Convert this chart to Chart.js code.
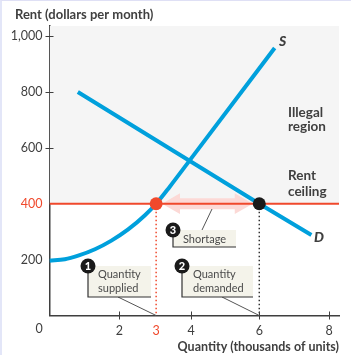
<!DOCTYPE html>
<html>
<head>
<meta charset="utf-8">
<script src="https://cdn.jsdelivr.net/npm/chart.js@4"></script>
<style>
html,body{margin:0;padding:0;background:#fff;}
#wrap{position:relative;width:351px;height:355px;overflow:hidden;}
#wrap::after{content:"";position:absolute;left:0;top:0;right:0;bottom:0;border-top:1px solid #dfe0f5;border-left:2px solid #e3e6f8;pointer-events:none;}
</style>
</head>
<body>
<div id="wrap"><canvas id="rentChart" width="351" height="355"></canvas></div>
<script>
const supplyX = [0, 0.44, 0.82, 1.3, 1.77, 2.25, 2.73, 3.05, 3.44, 4.01, 6.44];
const supplyY = [196, 201, 214, 237, 268, 308, 359, 400, 461, 555, 957];
const demandX = [0.81, 6, 7.49];
const demandY = [800, 400, 288];
const ceilingX = [0, 8.28];
const ceilingY = [400, 400];
const shortageX = [3.56, 5.47];
const shortageY = [400, 400];
const suppliedX = [3.05, 3.05];
const demandedX = [6, 6];
const dropY = [400, 0];
// printed tick positions in the picture are not quite even
const xTicks = [2, 3.05, 4.05, 6, 8];
const xLabels = ["2", "3", "4", "6", "8"];
const yTicks = [200, 400, 600, 800, 1000];
const xMarks = [2, 4.05, 6, 8];
const yMarks = [600, 800, 1000];

const INK = "#3f3f3f";
const RED = "#f0492c";
const BLUE = "#00a0dc";
const NOTE = "#f4f3ea";
const FONT = "Lato";

const zip = (xs,ys)=>xs.map((x,i)=>({x:x,y:ys[i]}));

function note(ctx,n,left,top,right,bottom,lines,textX,firstY){
    ctx.fillStyle = NOTE;
    ctx.fillRect(left,top,right-left,bottom-top);
    ctx.strokeStyle = "#333";
    ctx.lineWidth = 1.2;
    ctx.beginPath();
    ctx.moveTo(left,top);
    ctx.lineTo(left,bottom);
    ctx.lineTo(right,bottom);
    ctx.stroke();
    ctx.fillStyle = "#1a1a1a";
    ctx.beginPath();
    ctx.arc(left,top,7.5,0,Math.PI*2);
    ctx.fill();
    ctx.fillStyle = "#fff";
    ctx.font = "900 11px "+FONT;
    ctx.textAlign = "center";
    ctx.textBaseline = "middle";
    ctx.fillText(n,left,top+0.5);
    ctx.fillStyle = "#4a4a4a";
    ctx.font = "11px "+FONT;
    ctx.textAlign = "left";
    lines.forEach((t,i)=>ctx.fillText(t,textX,firstY+i*13.5));
}

function leader(ctx,x1,y1,x2,y2){
    ctx.strokeStyle = "#555";
    ctx.lineWidth = 1;
    ctx.beginPath();
    ctx.moveTo(x1,y1);
    ctx.lineTo(x2,y2);
    ctx.stroke();
}

const notesPlugin = {
    id:"notes",
    afterDatasetsDraw(chart){
        const ctx = chart.ctx, x = chart.scales.x, y = chart.scales.y;
        ctx.save();

        // tick marks cross the axes
        ctx.strokeStyle = INK;
        ctx.lineWidth = 1;
        xMarks.forEach(v=>{
            const p = Math.round(x.getPixelForValue(v))+0.5;
            ctx.beginPath(); ctx.moveTo(p,y.bottom-4); ctx.lineTo(p,y.bottom+4); ctx.stroke();
        });
        yMarks.forEach(v=>{
            const p = Math.round(y.getPixelForValue(v))+0.5;
            ctx.beginPath(); ctx.moveTo(x.left-4,p); ctx.lineTo(x.left+4,p); ctx.stroke();
        });

        leader(ctx,118,297,x.getPixelForValue(suppliedX[0]),y.bottom);
        leader(ctx,222,297,x.getPixelForValue(demandedX[0]),y.bottom);
        leader(ctx,212,209,202,230);

        note(ctx,"1",88,266,151,297,["Quantity","supplied"],98,274.5);
        note(ctx,"2",182,266,253,297,["Quantity","demanded"],193,274.5);
        note(ctx,"3",173,230,236,247,["Shortage"],183,239);

        ctx.fillStyle = INK;
        ctx.font = "12.5px "+FONT;
        ctx.textAlign = "center";
        ctx.textBaseline = "middle";
        ctx.fillText("0",39,329);

        ctx.textAlign = "left";
        // y axis title sits flat above the axis, offset from the left edge
        ctx.font = "bold 13px "+FONT;
        ctx.fillText("Rent (dollars per month)",15,15);

        ctx.font = "bold 13.5px "+FONT;
        ctx.fillText("Illegal",288,113);
        ctx.fillText("region",288,127);
        ctx.fillText("Rent",288,176);
        ctx.fillText("ceiling",288,192);

        ctx.font = "italic 900 14px "+FONT;
        ctx.fillText("S",279,41);
        ctx.fillText("D",314,237);
        ctx.restore();
    }
};

new Chart(document.getElementById("rentChart"),{
    type:"line",
    data:{datasets:[
        {data:zip(ceilingX,ceilingY),borderWidth:0,pointRadius:0,fill:"end",backgroundColor:"#f5f5f5",order:10},
        {data:zip(shortageX,shortageY),borderColor:"#fcd9d6",borderWidth:11,borderCapStyle:"butt",
            pointStyle:"triangle",pointRadius:12,pointRotation:[-90,90],pointBackgroundColor:"#fcd9d6",pointBorderWidth:0,order:8},
        {data:zip(supplyX,supplyY),borderColor:BLUE,borderWidth:4,pointRadius:0,cubicInterpolationMode:"monotone",borderCapStyle:"butt",order:6},
        {data:zip(demandX,demandY),borderColor:BLUE,borderWidth:4,pointRadius:0,borderCapStyle:"butt",order:6},
        {data:zip(ceilingX,ceilingY),borderColor:RED,borderWidth:2,pointRadius:0,order:5},
        {data:zip(suppliedX,dropY),borderColor:RED,borderWidth:1.5,borderDash:[1.5,2.5],pointRadius:[6.5,0],pointBackgroundColor:RED,pointBorderWidth:0,order:2},
        {data:zip(demandedX,dropY),borderColor:"#333",borderWidth:1.5,borderDash:[1.5,2.5],pointRadius:[6.5,0],pointBackgroundColor:"#1a1a1a",pointBorderWidth:0,order:2}
    ]},
    options:{
        responsive:false,
        animation:false,
        layout:{padding:{left:0,right:12,top:26,bottom:0}},
        plugins:{
            legend:{display:false},
            tooltip:{enabled:false},
            title:{display:false}
        },
        scales:{
            x:{
                type:"linear",min:0,max:8.28,
                afterBuildTicks:s=>{s.ticks = xTicks.map(v=>({value:v}));},
                afterFit:s=>{s.height = 39.5;},
                grid:{display:true,drawOnChartArea:false,drawTicks:false},
                border:{color:INK,width:1.5},
                ticks:{autoSkip:false,maxRotation:0,padding:8,font:{family:FONT,size:12.5},
                    callback:v=>xLabels[xTicks.indexOf(v)],
                    color:c=>c.tick.value===xTicks[1]?RED:INK},
                title:{display:true,text:"Quantity (thousands of units)",align:"end",color:INK,
                    font:{family:FONT,size:12.5,weight:"bold"},padding:{top:2,bottom:1}}
            },
            y:{
                type:"linear",min:0,max:1036,
                afterBuildTicks:s=>{s.ticks = yTicks.map(v=>({value:v}));},
                afterFit:s=>{s.width = 49.5;},
                grid:{display:true,drawOnChartArea:false,drawTicks:false},
                border:{color:INK,width:1.5},
                ticks:{autoSkip:false,padding:7,font:{family:FONT,size:12.5},
                    callback:v=>v.toLocaleString("en-US"),
                    color:c=>c.tick.value===400?RED:INK}
            }
        }
    },
    plugins:[notesPlugin]
});
</script>
</body>
</html>
